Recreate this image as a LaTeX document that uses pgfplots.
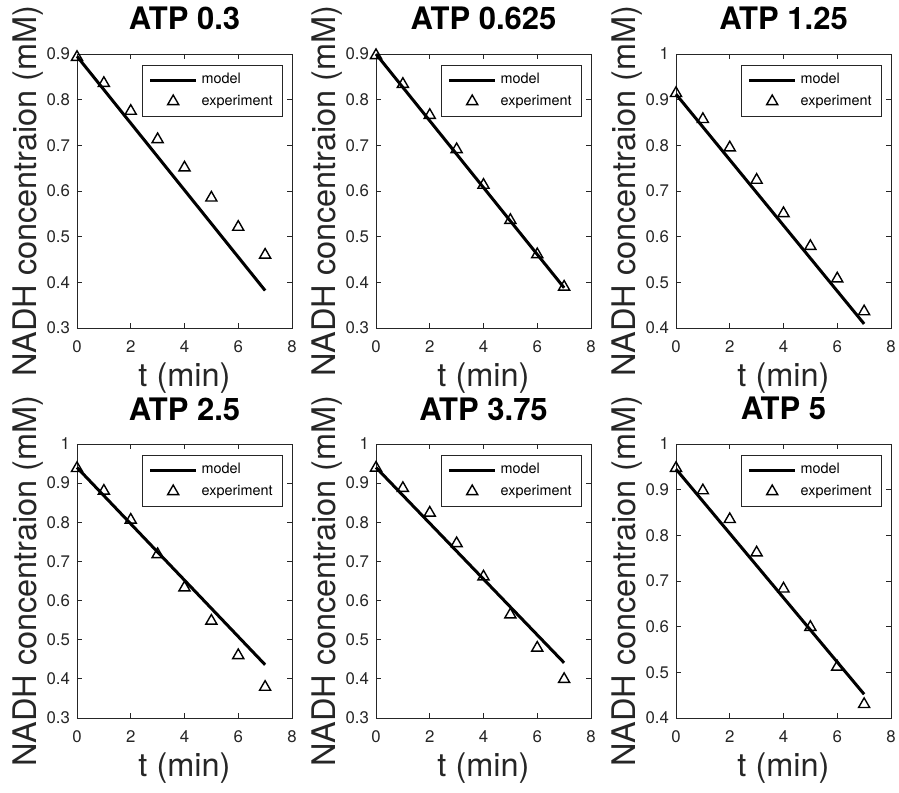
\documentclass[border=0pt]{standalone}
\usepackage{fontspec}
\setmainfont{TeX Gyre Heros}
\usepackage{pgfplots}
\pgfplotsset{compat=1.18}
\definecolor{axgray}{RGB}{38,38,38}
\pgfplotsset{
  panel/.style={
    scale only axis, width=107.5pt, height=137pt, anchor=south west,
    xmin=0, xmax=8, xtick={0,2,4,6,8},
    clip=false,
    axis line style={axgray, line width=0.4pt},
    tick style={axgray, line width=0.4pt},
    major tick length=2.5pt,
    tick align=inside,
    ticklabel style={font=\fontsize{8.4}{10}\selectfont, text=axgray},
    /pgf/number format/assume math mode=true,
    xticklabel style={yshift=-3pt},
    title style={font=\bfseries\fontsize{15.5}{18}\selectfont, at={(axis description cs:0.5,1)}, anchor=base, yshift=6pt},
    xlabel={t (min)}, ylabel={NADH concentraion (mM)},
    label style={font=\fontsize{16.25}{19}\selectfont, text=axgray, inner sep=0pt},
    xlabel style={at={(axis description cs:0.5,-0.212)}, anchor=base},
    ylabel style={at={(axis description cs:-0.19,0.5)}, anchor=base},
    legend style={at={(axis description cs:0.958,0.96)}, anchor=north east,
      draw=axgray, line width=0.4pt, font=\fontsize{7.2}{8.6}\selectfont,
      inner xsep=3pt, inner ysep=2pt},
    legend cell align=left,
    legend image code/.code={\draw[mark repeat=2,mark phase=2,#1] plot coordinates {(0pt,0pt) (11.5pt,0pt) (23pt,0pt)};},
  },
  model/.style={black, line width=1.5pt, no marks},
  expt/.style={only marks, mark=triangle, mark size=3.2pt, mark options={black, line width=0.7pt}},
}
\begin{document}
\begin{tikzpicture}
\path[use as bounding box] (0,0) rectangle (449.5pt,396pt);

% top row
\begin{axis}[panel, at={(38.5pt,232pt)}, title={ATP 0.3}, ymin=0.3, ymax=0.9, ytick={0.3,0.4,0.5,0.6,0.7,0.8,0.9}]
\addplot[model] coordinates {(0,0.895) (7,0.382)};
\addlegendentry{model}
\addplot[expt] coordinates {(0,0.893) (1,0.836) (2,0.775) (3,0.713) (4,0.651) (5,0.585) (6,0.521) (7,0.460)};
\addlegendentry{experiment}
\end{axis}

\begin{axis}[panel, at={(188pt,232pt)}, title={ATP 0.625}, ymin=0.3, ymax=0.9, ytick={0.3,0.4,0.5,0.6,0.7,0.8,0.9}]
\addplot[model] coordinates {(0,0.900) (7,0.388)};
\addlegendentry{model}
\addplot[expt] coordinates {(0,0.897) (1,0.834) (2,0.766) (3,0.691) (4,0.613) (5,0.536) (6,0.461) (7,0.390)};
\addlegendentry{experiment}
\end{axis}

\begin{axis}[panel, at={(338pt,232pt)}, title={ATP 1.25}, ymin=0.4, ymax=1, ytick={0.4,0.5,0.6,0.7,0.8,0.9,1}]
\addplot[model] coordinates {(0,0.912) (7,0.409)};
\addlegendentry{model}
\addplot[expt] coordinates {(0,0.914) (1,0.857) (2,0.795) (3,0.724) (4,0.651) (5,0.579) (6,0.508) (7,0.436)};
\addlegendentry{experiment}
\end{axis}

% bottom row
\begin{axis}[panel, at={(38.5pt,37pt)}, title={ATP 2.5}, ymin=0.3, ymax=1, ytick={0.3,0.4,0.5,0.6,0.7,0.8,0.9,1}]
\addplot[model] coordinates {(0,0.940) (7,0.436)};
\addlegendentry{model}
\addplot[expt] coordinates {(0,0.938) (1,0.880) (2,0.806) (3,0.718) (4,0.633) (5,0.548) (6,0.460) (7,0.379)};
\addlegendentry{experiment}
\end{axis}

\begin{axis}[panel, at={(188pt,37pt)}, title={ATP 3.75}, ymin=0.3, ymax=1, ytick={0.3,0.4,0.5,0.6,0.7,0.8,0.9,1}]
\addplot[model] coordinates {(0,0.940) (7,0.441)};
\addlegendentry{model}
\addplot[expt] coordinates {(0,0.939) (1,0.887) (2,0.824) (3,0.746) (4,0.661) (5,0.564) (6,0.479) (7,0.399)};
\addlegendentry{experiment}
\end{axis}

\begin{axis}[panel, at={(338pt,37pt)}, title={ATP 5}, ymin=0.4, ymax=1, ytick={0.4,0.5,0.6,0.7,0.8,0.9,1}]
\addplot[model] coordinates {(0,0.945) (7,0.452)};
\addlegendentry{model}
\addplot[expt] coordinates {(0,0.947) (1,0.898) (2,0.835) (3,0.762) (4,0.683) (5,0.599) (6,0.512) (7,0.430)};
\addlegendentry{experiment}
\end{axis}
\end{tikzpicture}
\end{document}
